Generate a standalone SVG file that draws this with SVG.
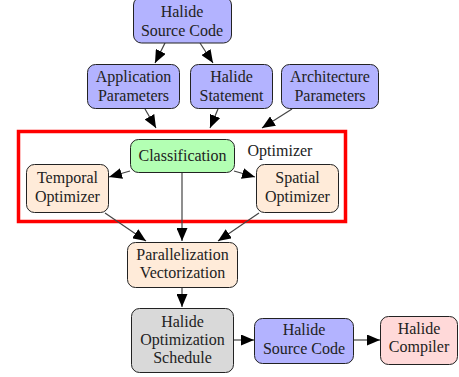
<svg xmlns="http://www.w3.org/2000/svg" width="459" height="377" viewBox="0 0 459 377" font-family="Liberation Serif, Times New Roman, serif">
<defs>
<marker id="ah" markerWidth="13" markerHeight="11" refX="13" refY="5.5" orient="auto" markerUnits="userSpaceOnUse">
<path d="M0,0 L13,5.5 L0,11 z" fill="#000"/>
</marker>
<style>
.n rect{stroke:#222;stroke-width:1;}
.blue{fill:#b3b3ff}.green{fill:#b3ffb3}.peach{fill:#ffebd9}.gray{fill:#d9d9d9}.pink{fill:#ffd9d9}
text{font-size:16px;fill:#222;text-anchor:middle}
#edges line{stroke:#444;stroke-width:1.2;marker-end:url(#ah)}
</style>
</defs>
<rect x="18.5" y="131.5" width="327" height="90" fill="none" stroke="#ff0000" stroke-width="3.5"/>
<text x="280" y="156">Optimizer</text>
<g id="edges">
<line x1="165" y1="43" x2="155" y2="63"/>
<line x1="200" y1="43" x2="213" y2="63"/>
<line x1="145" y1="109" x2="156" y2="128"/>
<line x1="218" y1="109" x2="210" y2="128"/>
<line x1="292" y1="109" x2="262" y2="128"/>
<line x1="130" y1="171" x2="109" y2="177"/>
<line x1="234" y1="171" x2="255" y2="177"/>
<line x1="182" y1="172" x2="182" y2="241"/>
<line x1="105" y1="213" x2="146" y2="241"/>
<line x1="259" y1="213" x2="218" y2="241"/>
<line x1="182" y1="287" x2="182" y2="307"/>
<line x1="233" y1="340" x2="254" y2="340"/>
<line x1="353" y1="340" x2="380" y2="340"/>
</g>
<g id="src" class="n"><rect class="blue" x="133.5" y="-3" width="98" height="46" rx="8"/><text x="182" y="17">Halide</text><text x="182" y="36">Source Code</text></g>
<g id="app" class="n"><rect class="blue" x="87.5" y="64.5" width="92" height="44" rx="8"/><text x="133.5" y="82">Application</text><text x="133.5" y="101">Parameters</text></g>
<g id="stmt" class="n"><rect class="blue" x="190.5" y="64.5" width="82" height="44" rx="8"/><text x="231.5" y="82">Halide</text><text x="231.5" y="101">Statement</text></g>
<g id="arch" class="n"><rect class="blue" x="281.5" y="64.5" width="97" height="44" rx="8"/><text x="330" y="82">Architecture</text><text x="330" y="101">Parameters</text></g>
<g id="class" class="n"><rect class="green" x="130.5" y="139.5" width="104" height="33" rx="8"/><text x="182.5" y="161">Classification</text></g>
<g id="temp" class="n"><rect class="peach" x="26.5" y="164.5" width="82" height="48" rx="8"/><text x="67.5" y="183">Temporal</text><text x="67.5" y="202">Optimizer</text></g>
<g id="spat" class="n"><rect class="peach" x="256.5" y="164.5" width="82" height="48" rx="8"/><text x="297.5" y="183">Spatial</text><text x="297.5" y="202">Optimizer</text></g>
<g id="par" class="n"><rect class="peach" x="127.5" y="242.5" width="110" height="45" rx="8"/><text x="182.5" y="260">Parallelization</text><text x="182.5" y="278">Vectorization</text></g>
<g id="sched" class="n"><rect class="gray" x="131.5" y="308.5" width="102" height="64" rx="8"/><text x="182.5" y="327">Halide</text><text x="182.5" y="345">Optimization</text><text x="182.5" y="363">Schedule</text></g>
<g id="src2" class="n"><rect class="blue" x="254.5" y="318.5" width="99" height="45" rx="8"/><text x="304" y="335">Halide</text><text x="304" y="353.5">Source Code</text></g>
<g id="comp" class="n"><rect class="pink" x="380.5" y="316.5" width="77" height="48" rx="8"/><text x="419" y="333.5">Halide</text><text x="419" y="352">Compiler</text></g>
</svg>
